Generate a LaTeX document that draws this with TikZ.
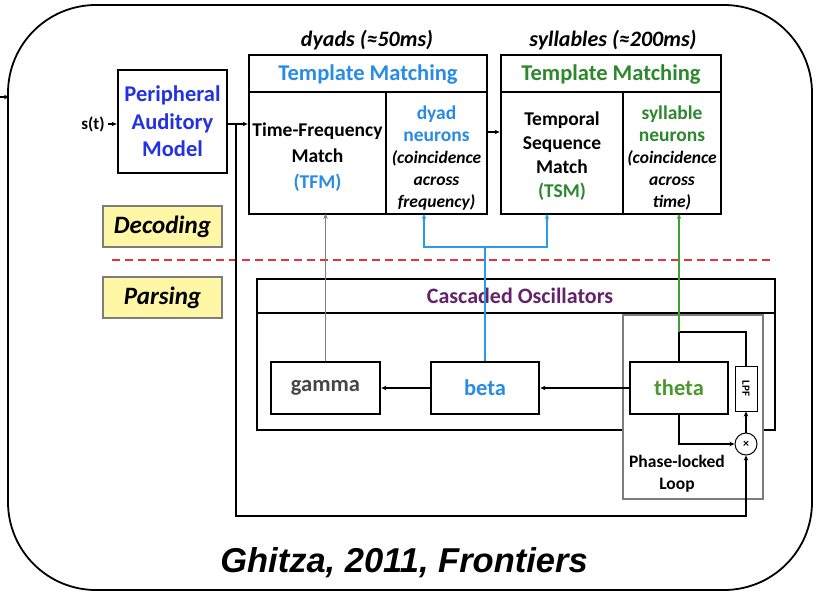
\documentclass[tikz,border=0pt]{standalone}
\usepackage{fontspec}
\setmainfont{Carlito}
\newfontfamily\citefont{Liberation Sans}
\usetikzlibrary{arrows.meta}
\definecolor{pamblue}{RGB}{35,50,225}
\definecolor{tmblue}{RGB}{40,140,230}
\definecolor{tmgreen}{RGB}{45,135,45}
\definecolor{thgreen}{RGB}{75,150,45}
\definecolor{purp}{RGB}{100,35,105}
\definecolor{paleyellow}{RGB}{255,247,165}
\definecolor{dashred}{RGB}{230,50,60}
\definecolor{midgray}{RGB}{125,125,125}
\definecolor{wireblue}{RGB}{40,155,235}
\definecolor{wiregreen}{RGB}{60,160,50}
\definecolor{darkgray}{RGB}{70,70,70}
\begin{document}
\begin{tikzpicture}[x=1pt,y=-1pt,
  thickbox/.style={draw,line width=2.8pt,inner sep=0pt},
  thinbox/.style={draw,line width=1pt,inner sep=0pt},
  tag/.style={draw=midgray,fill=paleyellow,line width=1.2pt,inner sep=0pt,
    minimum width=119pt,minimum height=41pt,
    font=\fontsize{25}{28}\selectfont\bfseries\itshape},
  bigtxt/.style={font=\fontsize{22.5}{27}\selectfont\bfseries,align=center,inner sep=0pt},
  midtxt/.style={font=\fontsize{19.5}{25}\selectfont\bfseries,align=center,inner sep=0pt},
  smalltxt/.style={font=\fontsize{17.5}{22}\selectfont\bfseries,align=center,inner sep=0pt},
  wire/.style={line width=1.1pt},
  tip/.style={-{Stealth[length=5pt,width=4.5pt]}},
  divider/.style={line width=1.2pt}
]
\useasboundingbox (0,0) rectangle (818,592);

% outer frame
\draw[line width=1.8pt,rounded corners=88pt] (8,5) rectangle (812,590);
\coordinate (fin) at (0,97);
\coordinate (fedge) at (9,97);
\draw[wire,tip] (fin) -- (fedge);

% input and peripheral model
\node[font=\fontsize{17}{18}\selectfont\bfseries,inner sep=0pt] (st) at (93,124) {s(t)};
\node[thickbox,minimum width=109pt,minimum height=103pt,
      font=\fontsize{22.5}{27.5}\selectfont\bfseries,align=center,text=pamblue]
      (pam) at (172.5,121.5) {Peripheral\\Auditory\\Model};
\draw[wire,tip] (st.east) ++(3,0) -- (pam.west |- st.east);

% time-scale labels
\node[font=\fontsize{22}{26}\selectfont\bfseries\itshape] (dyads) at (367,40) {dyads (≈50ms)};
\node[font=\fontsize{22}{26}\selectfont\bfseries\itshape] (sylls) at (613,40) {syllables (≈200ms)};

% first template matching block
\node[thickbox,minimum width=238pt,minimum height=159pt] (tm1) at (368,134.5) {};
\draw[divider] (249,92) -- (487,92);
\draw[divider] (386,92) -- (386,214);
\node[bigtxt,text=tmblue] (tm1h) at (368,75) {Template Matching};
\node[midtxt,font=\fontsize{19.5}{26}\selectfont\bfseries] (tfm) at (317.5,157)
  {Time-Frequency\\Match\\\textcolor{tmblue}{(TFM)}};
\node[midtxt,font=\fontsize{19.5}{22}\selectfont\bfseries] (dyn) at (436.5,158)
  {\textcolor{tmblue}{dyad}\\\textcolor{tmblue}{neurons}\\[0pt]
   {\fontsize{17.5}{22}\selectfont\itshape (coincidence}\\
   {\fontsize{17.5}{22}\selectfont\itshape across}\\
   {\fontsize{17.5}{22}\selectfont\itshape frequency)}};

% second template matching block
\node[thickbox,minimum width=220pt,minimum height=159pt] (tm2) at (611,134.5) {};
\draw[divider] (501,92) -- (721,92);
\draw[divider] (623,92) -- (623,214);
\node[bigtxt,text=tmgreen] (tm2h) at (611,75) {Template Matching};
\node[midtxt,font=\fontsize{19.5}{24}\selectfont\bfseries] (tsm) at (562,156)
  {Temporal\\Sequence\\Match\\\textcolor{tmgreen}{(TSM)}};
\node[midtxt,font=\fontsize{19.5}{22}\selectfont\bfseries] (syn) at (672,158)
  {\textcolor{tmgreen}{syllable}\\\textcolor{tmgreen}{neurons}\\
   {\fontsize{17.5}{22}\selectfont\itshape (coincidence}\\
   {\fontsize{17.5}{22}\selectfont\itshape across}\\
   {\fontsize{17.5}{22}\selectfont\itshape time)}};

\draw[wire,tip] (pam.east |- st.east) -- (tm1.west |- st.east);
\coordinate (tmlink) at (487,132);
\draw[wire,tip] (tm1.east |- tmlink) -- (tm2.west |- tmlink);

% stage tags and separator
\node[tag] (dec) at (162.5,226.5) {Decoding};
\node[tag] (par) at (162.5,297.5) {Parsing};
\coordinate (sepL) at (112,260);
\coordinate (sepR) at (775,260);
\draw[dashred,line width=2.4pt,dash pattern=on 8pt off 5pt] (sepL) -- (sepR);

% cascaded oscillators
\node[thickbox,minimum width=518pt,minimum height=151pt] (cas) at (516,354.5) {};
\draw[divider] (257,313) -- (775,313);
\node[font=\fontsize{22}{25}\selectfont\bfseries,text=purp] (cash) at (520,296) {Cascaded Oscillators};

% phase-locked loop
\node[draw=midgray,fill=white,line width=1.2pt,minimum width=140pt,minimum height=184pt,inner sep=0pt]
  (pll) at (693,407) {};
\node[smalltxt] (pllt) at (677,474) {Phase-locked\\Loop};

\node[thickbox,minimum width=98pt,minimum height=52pt,font=\fontsize{22.5}{26}\selectfont\bfseries,text=thgreen]
  (theta) at (679,388) {theta};
\node[thickbox,minimum width=108pt,minimum height=52pt,font=\fontsize{22.5}{26}\selectfont\bfseries,text=tmblue]
  (beta) at (485,388) {beta};
\node[thickbox,minimum width=109pt,minimum height=52pt,font=\fontsize{22.5}{26}\selectfont\bfseries,text=darkgray]
  (gamma) at (325.5,388) {gamma};
\node[thinbox,minimum width=22pt,minimum height=45pt] (lpf) at (746,388.5) {};
\node[font=\fontsize{11}{12}\selectfont\bfseries,rotate=-90,inner sep=0pt] (lpft) at (lpf) {LPF};
\node[draw,circle,line width=1pt,minimum size=22pt,inner sep=0pt,font=\fontsize{12}{12}\selectfont\bfseries]
  (mult) at (746,444) {×};

\draw[wire,tip] (theta.west) -- (beta.east);
\draw[wire,tip] (beta.west) -- (gamma.east);

% loop wiring
\coordinate (tj) at (679,332);
\coordinate (tr) at (746,332);
\draw[wire] (theta.north) -- (tj) -- (tr) -- (lpf.north);
\draw[wire,tip] (mult.north) -- (lpf.south);
\coordinate (tb) at (679,444);
\draw[wire,tip] (theta.south) -- (tb) -- (mult.west);
\coordinate (fb1) at (236,124);
\coordinate (fb2) at (236,516);
\coordinate (fb3) at (746,516);
\draw[wire,tip] (fb1) -- (fb2) -- (fb3) -- (mult.south);

% feeds up to the template matchers
\coordinate (gtop) at (325.5,214);
\draw[midgray,line width=1.5pt,tip] (gamma.north) -- (gtop);
\coordinate (bj) at (485,247);
\coordinate (bl) at (424,247);
\coordinate (br) at (547,247);
\coordinate (blin) at (424,214);
\coordinate (brin) at (547,214);
\draw[wireblue,line width=1.8pt] (beta.north) -- (bj);
\draw[wireblue,line width=1.8pt,tip] (bj) -- (bl) -- (blin);
\draw[wireblue,line width=1.8pt,tip] (bj) -- (br) -- (brin);
\coordinate (gin) at (679,214);
\draw[wiregreen,line width=1.5pt,tip] (tj) -- (gin);

% citation
\node[font=\fontsize{34.5}{38}\selectfont\citefont\bfseries\itshape,inner sep=0pt] (cite) at (404,563)
  {Ghitza, 2011, Frontiers};
\end{tikzpicture}
\end{document}
